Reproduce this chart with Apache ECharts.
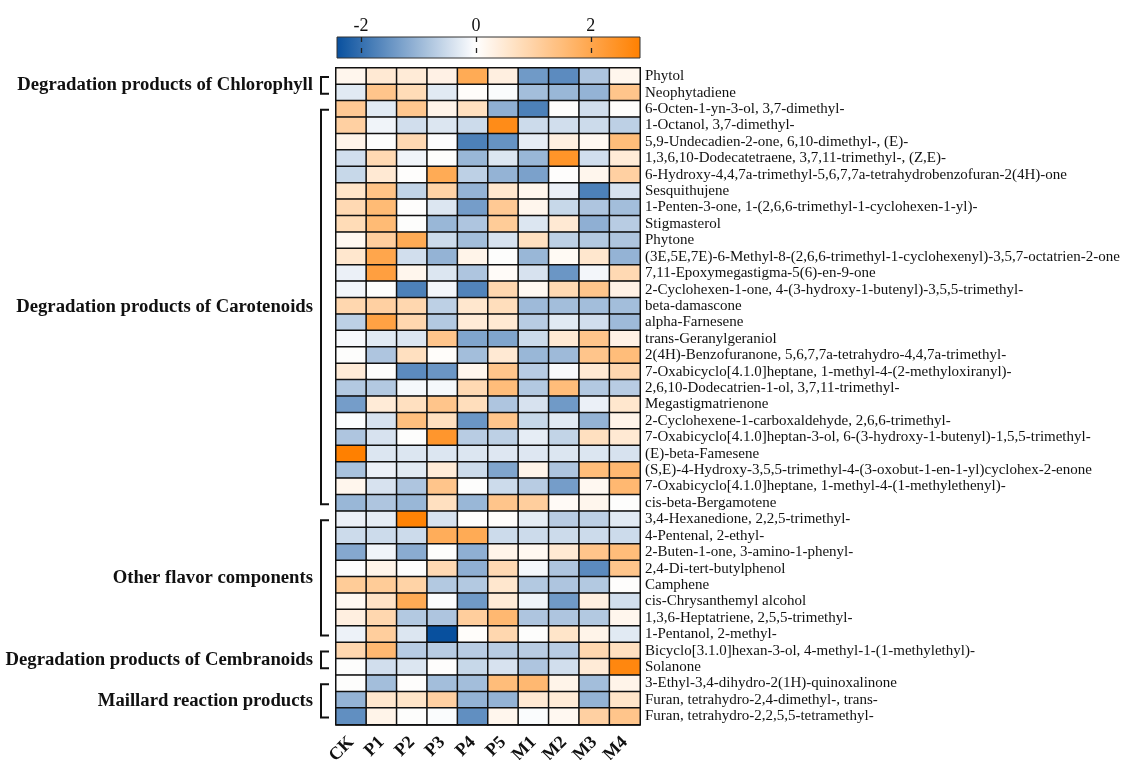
<!DOCTYPE html>
<html><head><meta charset="utf-8">
<script src="https://cdn.jsdelivr.net/npm/echarts@6/dist/echarts.min.js"></script>
<style>html,body{margin:0;padding:0;background:#fff}#main{width:1126px;height:760px}</style>
</head><body><div id="main"></div>
<script>
// ---------- DATA ----------
const samples = ['CK','P1','P2','P3','P4','P5','M1','M2','M3','M4'];
const colorbarTicks = [-2, 0, 2];
const scaleMin = -2.42, scaleMax = 2.86;

const groupNames = ['Degradation products of Chlorophyll','Degradation products of Carotenoids','Other flavor components','Degradation products of Cembranoids','Maillard reaction products'];

const chlorophyllNames = ['Phytol','Neophytadiene'];
const chlorophyllValues = [
  [0.2, 0.5, 0.45, 0.3, 1.9, 0.35, -1.4, -1.6, -0.8, 0.2],
  [-0.3, 1.3, 0.8, -0.3, 0.05, -0.05, -0.9, -1.0, -1.05, 1.3]
];

const carotenoidNames = [
  '6-Octen-1-yn-3-ol, 3,7-dimethyl-',
  '1-Octanol, 3,7-dimethyl-',
  '5,9-Undecadien-2-one, 6,10-dimethyl-, (E)-',
  '1,3,6,10-Dodecatetraene, 3,7,11-trimethyl-, (Z,E)-',
  '6-Hydroxy-4,4,7a-trimethyl-5,6,7,7a-tetrahydrobenzofuran-2(4H)-one',
  'Sesquithujene',
  '1-Penten-3-one, 1-(2,6,6-trimethyl-1-cyclohexen-1-yl)-',
  'Stigmasterol',
  'Phytone',
  '(3E,5E,7E)-6-Methyl-8-(2,6,6-trimethyl-1-cyclohexenyl)-3,5,7-octatrien-2-one',
  '7,11-Epoxymegastigma-5(6)-en-9-one',
  '2-Cyclohexen-1-one, 4-(3-hydroxy-1-butenyl)-3,5,5-trimethyl-',
  'beta-damascone',
  'alpha-Farnesene',
  'trans-Geranylgeraniol',
  '2(4H)-Benzofuranone, 5,6,7,7a-tetrahydro-4,4,7a-trimethyl-',
  '7-Oxabicyclo[4.1.0]heptane, 1-methyl-4-(2-methyloxiranyl)-',
  '2,6,10-Dodecatrien-1-ol, 3,7,11-trimethyl-',
  'Megastigmatrienone',
  '2-Cyclohexene-1-carboxaldehyde, 2,6,6-trimethyl-',
  '7-Oxabicyclo[4.1.0]heptan-3-ol, 6-(3-hydroxy-1-butenyl)-1,5,5-trimethyl-',
  '(E)-beta-Famesene',
  '(S,E)-4-Hydroxy-3,5,5-trimethyl-4-(3-oxobut-1-en-1-yl)cyclohex-2-enone',
  '7-Oxabicyclo[4.1.0]heptane, 1-methyl-4-(1-methylethenyl)-',
  'cis-beta-Bergamotene'
];
const carotenoidValues = [
  [1.2, -0.3, 1.25, 0.25, 0.7, -1.1, -1.75, 0.02, -0.45, 0.03],
  [1.05, -0.15, -0.45, -0.35, -0.5, 2.6, -0.5, -0.45, -0.5, -0.65],
  [0.25, 0, 0.85, -0.03, -1.75, -1.5, -0.25, 0.35, 0.15, 1.5],
  [-0.45, 0.85, -0.15, 0, -1.0, -0.35, -1.0, 2.4, -0.45, 0.45],
  [-0.55, 0.5, 0.02, 1.9, -0.65, -1.05, -1.3, 0.02, 0.2, 1.05],
  [0.6, 1.35, -0.6, 1.0, -1.05, 0.55, 0.2, -0.2, -1.75, -0.4],
  [0.85, 1.55, 0.02, -0.35, -1.35, 1.2, 0.2, -0.55, -0.8, -0.9],
  [0.8, 1.55, 0.01, -1.0, -0.8, 1.15, -0.35, 0.5, -1.1, -0.7],
  [0.15, 1.1, 1.9, -0.5, -0.9, -0.4, 0.7, -0.65, -0.75, -0.8],
  [0.55, 2.0, -0.45, -1.05, 0.25, 0.01, -1.0, 0.12, 0.55, -1.05],
  [-0.2, 2.15, 0.2, -0.35, -0.8, 0.08, -0.4, -1.45, -0.12, 0.85],
  [-0.12, 0.01, -1.75, -0.12, -1.7, 0.9, 0.15, 0.85, 1.3, 0.3],
  [0.9, 1.05, 0.9, -0.65, 0.55, 0.75, -0.95, -0.9, -0.9, -0.9],
  [-0.65, 2.1, 0.9, -0.75, 0.45, 0.5, -0.7, -0.3, -0.45, -0.95],
  [-0.08, -0.3, -0.35, 1.3, -1.25, -1.25, -0.5, 0.5, 1.3, 0.3],
  [0.01, -0.8, 0.7, 0.05, -0.9, 0.5, -1.0, -0.95, 1.3, 1.5],
  [0.45, 0.01, -1.6, -1.45, 0.2, 1.3, -0.7, -0.08, 0.5, 0.9],
  [-0.75, -0.75, -0.1, -0.1, 0.85, 1.5, -0.75, 1.5, -0.75, -0.7],
  [-1.35, 0.45, 0.7, 1.3, 0.75, -0.8, -0.4, -1.4, -0.2, 0.55],
  [-0.05, -0.4, 1.45, 0.7, -1.45, 1.3, -0.55, -0.3, -1.05, 0.25],
  [-0.8, -0.4, 0.01, 2.35, -0.7, -0.65, -0.25, -0.6, 0.7, 0.5],
  [2.86, -0.35, -0.35, -0.35, -0.35, -0.33, -0.33, -0.35, -0.35, -0.4],
  [-0.85, -0.2, -0.3, 0.45, -0.5, -1.25, 0.25, -0.8, 1.5, 1.6],
  [0.2, -0.4, -0.8, 1.3, 0.01, -0.5, -0.7, -1.35, 0.15, 1.6],
  [-1.0, -0.8, -1.0, 0.7, -1.0, 1.3, 1.1, 0.1, 0.2, 0.01]
];

const otherNames = [
  '3,4-Hexanedione, 2,2,5-trimethyl-',
  '4-Pentenal, 2-ethyl-',
  '2-Buten-1-one, 3-amino-1-phenyl-',
  '2,4-Di-tert-butylphenol',
  'Camphene',
  'cis-Chrysanthemyl alcohol',
  '1,3,6-Heptatriene, 2,5,5-trimethyl-',
  '1-Pentanol, 2-methyl-'
];
const otherValues = [
  [-0.2, -0.25, 2.8, -0.4, 0.02, 0.05, -0.25, -0.7, -0.65, -0.3],
  [-0.5, -0.5, -0.5, 1.85, 1.9, -0.5, -0.5, -0.5, -0.5, -0.5],
  [-1.2, -0.15, -1.15, 0.01, -1.1, 0.25, 0.15, 0.5, 1.3, 1.5],
  [-0.03, 0.25, 0.02, 0.85, -1.1, 0.85, -0.1, -0.8, -1.6, 1.3],
  [1.15, 1.15, 1.0, -0.75, -0.75, 0.55, -0.75, -0.8, -0.75, 0.02],
  [0.15, 0.65, 1.9, -0.04, -1.4, 0.45, -0.15, -1.4, 0.35, -0.45],
  [0.35, 0.9, -0.75, -0.8, 1.1, 1.6, -0.8, -0.8, -0.75, 0.2],
  [-0.18, 1.1, -0.35, -2.42, 0.05, 0.9, 0.0, 0.6, 0.25, -0.3]
];

const cembranoidNames = ['Bicyclo[3.1.0]hexan-3-ol, 4-methyl-1-(1-methylethyl)-','Solanone'];
const cembranoidValues = [
  [0.9, 1.6, -0.7, -0.7, -0.7, -0.7, -0.7, -0.7, 0.9, 0.7],
  [0.0, -0.45, -0.35, 0.02, -0.55, -0.4, -0.8, -0.45, 0.45, 2.7]
];

const maillardNames = ['3-Ethyl-3,4-dihydro-2(1H)-quinoxalinone','Furan, tetrahydro-2,4-dimethyl-, trans-','Furan, tetrahydro-2,2,5,5-tetramethyl-'];
const maillardValues = [
  [0.0, -0.9, 0.02, -0.9, -0.9, 1.5, 1.6, 0.25, -0.9, 0.25],
  [-1.05, 0.55, 0.6, 1.05, -1.05, -1.05, 0.5, 0.45, -1.05, 0.6],
  [-1.55, 0.25, 0.0, -0.05, -1.55, 0.2, -0.05, 0.15, 1.05, 1.3]
];

// ---------- BUILD ----------
const groupNameLists = [chlorophyllNames, carotenoidNames, otherNames, cembranoidNames, maillardNames];
const groupValueLists = [chlorophyllValues, carotenoidValues, otherValues, cembranoidValues, maillardValues];
const compounds = [];
const heatData = [];
const groups = [];
groupNameLists.forEach((names, gi) => {
  const start = compounds.length;
  names.forEach((n, i) => {
    const row = compounds.length;
    compounds.push(n);
    groupValueLists[gi][i].forEach((v, c) => heatData.push([c, row, v]));
  });
  groups.push({name: groupNames[gi], start: start, end: compounds.length - 1});
});

const BLUE = [8, 80, 158], ORANGE = [255, 128, 0], WHITE = [255, 255, 255];
function mix(a, b, t) { return 'rgb(' + a.map((x, i) => Math.round(x + (b[i] - x) * t)).join(',') + ')'; }
function colorAt(v) { return v < 0 ? mix(WHITE, BLUE, Math.min(1, -v / -scaleMin)) : mix(WHITE, ORANGE, Math.min(1, v / scaleMax)); }
const NST = 61;
const stopColors = [];
for (let i = 0; i < NST; i++) stopColors.push(colorAt(scaleMin + (scaleMax - scaleMin) * i / (NST - 1)));

const SERIF = '"Liberation Serif", "Times New Roman", serif';
const GRID_LEFT = 336, GRID_TOP = 68, GRID_W = 304, GRID_H = 656.5;
const CB_TOP = 37, CB_H = 21;

const chart = echarts.init(document.getElementById('main'), null, {renderer: 'canvas'});
chart.setOption({
  backgroundColor: '#fff',
  animation: false,
  grid: [
    {left: GRID_LEFT, top: GRID_TOP, width: GRID_W, height: GRID_H, containLabel: false, outerBoundsMode: 'none'},
    {left: GRID_LEFT + 1, top: CB_TOP, width: GRID_W - 1, height: CB_H, containLabel: false, outerBoundsMode: 'none'}
  ],
  xAxis: [
    {type: 'category', gridIndex: 0, data: samples, position: 'bottom',
     axisLine: {show: true, lineStyle: {color: '#111', width: 1.5}},
     axisTick: {show: true, inside: true, alignWithLabel: true, length: 5, interval: 0, lineStyle: {color: '#111', width: 1.5}},
     axisLabel: {interval: 0, rotate: 45, margin: 15, fontFamily: SERIF, fontWeight: 'bold', fontSize: 18, color: '#111'},
     splitLine: {show: false}},
    {type: 'value', gridIndex: 1, min: scaleMin, max: scaleMax, position: 'top',
     axisLine: {show: false},
     axisTick: {show: false},
     axisLabel: {customValues: colorbarTicks, margin: 2, fontFamily: SERIF, fontSize: 18, color: '#111'},
     splitLine: {show: false}}
  ],
  yAxis: [
    {type: 'category', gridIndex: 0, data: compounds, inverse: true, position: 'right',
     axisLine: {show: true, lineStyle: {color: '#111', width: 1.5}},
     axisTick: {show: true, inside: true, alignWithLabel: true, length: 7, interval: 0, lineStyle: {color: '#111', width: 1.5}},
     axisLabel: {interval: 0, margin: 5, fontFamily: SERIF, fontSize: 15, color: '#111'},
     splitLine: {show: false}},
    {type: 'value', gridIndex: 1, show: false, min: 0, max: 1}
  ],
  visualMap: {type: 'continuous', show: false, min: scaleMin, max: scaleMax, dimension: 2, seriesIndex: 0,
              inRange: {color: stopColors}},
  series: [{
    type: 'heatmap', xAxisIndex: 0, yAxisIndex: 0, data: heatData,
    itemStyle: {borderColor: '#111', borderWidth: 1.5},
    emphasis: {disabled: true}
  }]
});

// annotations computed from axes
const elems = [];
const cbX0 = chart.convertToPixel({xAxisIndex: 1}, scaleMin);
const cbX1 = chart.convertToPixel({xAxisIndex: 1}, scaleMax);
elems.push({type: 'rect', z: 1, shape: {x: cbX0, y: CB_TOP, width: cbX1 - cbX0, height: CB_H},
  style: {fill: new echarts.graphic.LinearGradient(0, 0, 1, 0, stopColors.map((c, i) => ({offset: i / (NST - 1), color: c}))),
          stroke: '#333', lineWidth: 1}});
colorbarTicks.forEach(t => {
  const px = Math.round(chart.convertToPixel({xAxisIndex: 1}, t)) + 0.5;
  elems.push({type: 'line', z: 3, shape: {x1: px, y1: CB_TOP, x2: px, y2: CB_TOP + CB_H},
    style: {stroke: '#222', lineWidth: 1.3, lineDash: [5, 6]}});
});
const c0 = chart.convertToPixel({yAxisIndex: 0}, compounds[0]);
const c1 = chart.convertToPixel({yAxisIndex: 0}, compounds[1]);
const band = c1 - c0;
const bx = GRID_LEFT - 15, sx = GRID_LEFT - 7;
groups.forEach(gr => {
  const top = chart.convertToPixel({yAxisIndex: 0}, compounds[gr.start]) - band / 2 + 9;
  const bot = chart.convertToPixel({yAxisIndex: 0}, compounds[gr.end]) + band / 2 - 7;
  elems.push({type: 'polyline', z: 5, shape: {points: [[sx, top], [bx, top], [bx, bot], [sx, bot]]},
    style: {stroke: '#111', lineWidth: 2, fill: null}});
  elems.push({type: 'text', z: 5, x: bx - 8, y: (top + bot) / 2,
    style: {text: gr.name, align: 'right', verticalAlign: 'middle', fill: '#111',
            font: 'bold 18.7px ' + SERIF}});
});
chart.setOption({graphic: elems});
</script>
</body></html>
